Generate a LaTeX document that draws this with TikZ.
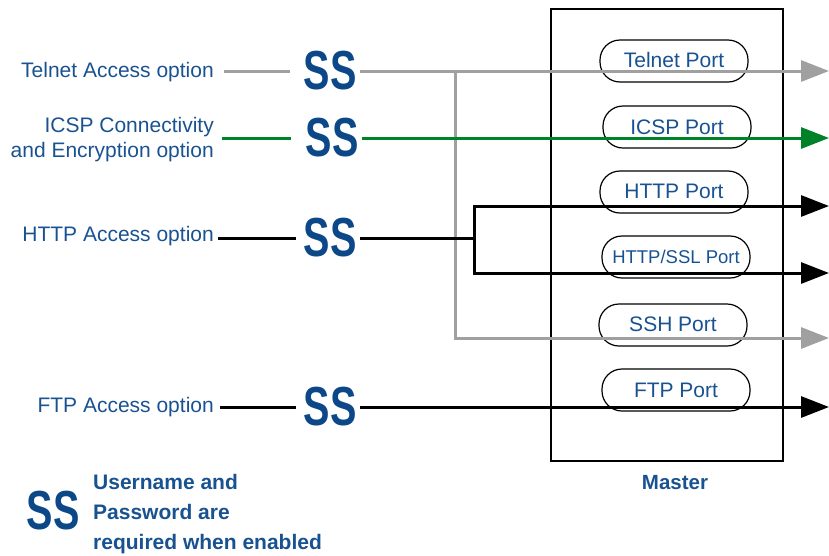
\documentclass[tikz,border=0pt]{standalone}
\usepackage{fontspec}
\setmainfont{Liberation Sans}
\usetikzlibrary{arrows.meta}
\definecolor{txtblue}{RGB}{25,82,145}
\definecolor{ssblue}{RGB}{12,72,135}
\definecolor{lgray}{RGB}{160,160,160}
\definecolor{lgreen}{RGB}{0,130,40}
\begin{document}
\begin{tikzpicture}[x=1pt,y=-1pt,
  lbl/.style={text=txtblue, font=\fontsize{21}{25}\selectfont, inner sep=0pt, anchor=east, align=right},
  ssmark/.style={text=ssblue, inner sep=0pt, font=\fontsize{55}{55}\selectfont\bfseries},
  port/.style={draw, line width=1.2pt, rounded corners=20pt, minimum width=148pt, minimum height=42pt, text=txtblue, font=\fontsize{21}{24}\selectfont, inner sep=0pt},
  wire/.style={line width=3pt},
  tip/.style={-{Triangle[length=28pt,width=21pt]}},
  lgr/.style={wire, lgray},
  lgn/.style={wire, lgreen},
  lbk/.style={wire, black}
]
\useasboundingbox (0,0) rectangle (829,555);

% Master box
\node[draw, line width=1.5pt, minimum width=232pt, minimum height=452pt, inner sep=0pt] (master) at (667,235) {};
\node[text=txtblue, font=\fontsize{20.5}{24}\selectfont\bfseries, inner sep=0pt] (mlab) at (675,483) {Master};

% Ports
\node[port] (ptel) at (674,61) {\raisebox{2pt}{Telnet Port}};
\node[port] (picsp) at (677,127) {ICSP Port};
\node[port] (phttp) at (674,192) {\raisebox{1pt}{HTTP Port}};
\node[port, font=\fontsize{18.5}{22}\selectfont] (pssl) at (676,257) {HTTP/SSL Port};
\node[port] (pssh) at (673,325) {\raisebox{1pt}{SSH Port}};
\node[port] (pftp) at (676,390) {FTP Port};

% Labels
\node[lbl] (tlab) at (214,72) {Telnet Access option};
\node[lbl] (clab) at (214,140) {ICSP Connectivity\\and Encryption option};
\node[lbl] (hlab) at (214,236) {HTTP Access option};
\node[lbl] (flab) at (214,407) {FTP Access option};

% SS marks
\node[ssmark] (sst) at (330,71) {\scalebox{0.72}[1]{SS}};
\node[ssmark] (ssc) at (332,138) {\scalebox{0.72}[1]{SS}};
\node[ssmark] (ssh) at (330,238) {\scalebox{0.72}[1]{SS}};
\node[ssmark] (ssf) at (330,407) {\scalebox{0.72}[1]{SS}};

% Coordinates
\coordinate (t0) at (224,71);
\coordinate (c0) at (222,138);
\coordinate (h0) at (218,238);
\coordinate (f0) at (220,407);
\coordinate (j1) at (455,71);
\coordinate (j2) at (474,238);
\coordinate (e1) at (829,71);
\coordinate (e2) at (829,138);
\coordinate (e3) at (829,206);
\coordinate (e4) at (829,273);
\coordinate (e5) at (829,338);
\coordinate (e6) at (829,407);

% Telnet
\draw[lgr, shorten >=13.6pt] (t0) -- (sst.west);
\draw[lgr, tip, shorten <=3.6pt] (sst.east) -- (e1);
\draw[lgr, tip] (j1) |- (e5);
% ICSP
\draw[lgn, shorten >=14.6pt] (c0) -- (ssc.west);
\draw[lgn, tip, shorten <=3.6pt] (ssc.east) -- (e2);
% HTTP
\draw[lbk, shorten >=7.6pt] (h0) -- (ssh.west);
\draw[lbk, shorten <=3.6pt] (ssh.east) -- (j2);
\draw[lbk, tip] (j2) |- (e3);
\draw[lbk, tip] (j2) |- (e4);
% FTP
\draw[lbk, shorten >=7.6pt] (f0) -- (ssf.west);
\draw[lbk, tip, shorten <=3.6pt] (ssf.east) -- (e6);

% Legend
\node[ssmark] (ssl) at (53,511) {\scalebox{0.72}[1]{SS}};
\node[text=txtblue, font=\fontsize{21}{30}\selectfont\bfseries, inner sep=0pt, anchor=west, align=left] (legend) at (93,514) {Username and\\Password are\\required when enabled};
\end{tikzpicture}
\end{document}
